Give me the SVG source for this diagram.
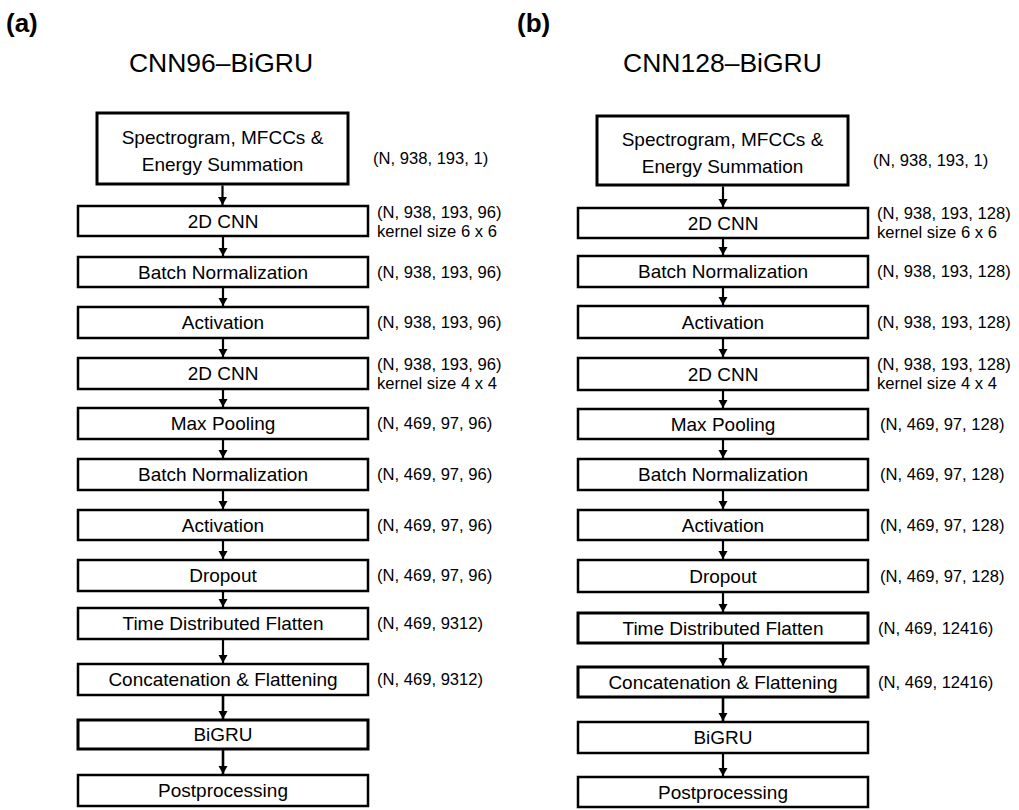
<svg xmlns="http://www.w3.org/2000/svg" width="1019" height="810" viewBox="0 0 1019 810">
<style>
.bg{fill:#ffffff}
.box{fill:#ffffff;stroke:#000000;stroke-width:2.5}
.inbox{fill:#ffffff;stroke:#000000;stroke-width:3}
.lbl{font-family:"Liberation Sans",Arial,sans-serif;font-size:19px;fill:#000;text-anchor:middle;dominant-baseline:central}
.lbl2{font-family:"Liberation Sans",Arial,sans-serif;font-size:19px;fill:#000;text-anchor:middle}
.ann{font-family:"Liberation Sans",Arial,sans-serif;font-size:16.6px;fill:#000;dominant-baseline:central}
.title{font-family:"Liberation Sans",Arial,sans-serif;font-size:26.5px;fill:#000;text-anchor:middle}
.tag{font-family:"Liberation Sans",Arial,sans-serif;font-size:26px;font-weight:bold;fill:#000}
.arr{stroke:#000;stroke-width:2.2;fill:none;marker-end:url(#ah)}
</style>
<defs>
<marker id="ah" markerUnits="userSpaceOnUse" markerWidth="10" markerHeight="10" refX="8" refY="5" orient="auto">
<path d="M0,0.5 L8,5 L0,9.5 z" fill="#000"/>
</marker>
</defs>
<rect class="bg" x="0" y="0" width="1019" height="810"/>
<text class="tag" x="6" y="32">(a)</text>
<text class="tag" x="517" y="32">(b)</text>
<text class="title" x="221" y="72">CNN96–BiGRU</text>
<text class="title" x="722.5" y="72">CNN128–BiGRU</text>

<g id="connectors">
<line class="arr" x1="222.5" y1="185.5" x2="222.5" y2="205"/>
<line class="arr" x1="223" y1="237" x2="223" y2="256"/>
<line class="arr" x1="223" y1="288" x2="223" y2="306"/>
<line class="arr" x1="223" y1="338.5" x2="223" y2="357"/>
<line class="arr" x1="223" y1="389.5" x2="223" y2="407"/>
<line class="arr" x1="223" y1="439.5" x2="223" y2="458"/>
<line class="arr" x1="223" y1="490.5" x2="223" y2="509"/>
<line class="arr" x1="223" y1="540.5" x2="223" y2="559"/>
<line class="arr" x1="223" y1="591.5" x2="223" y2="607"/>
<line class="arr" x1="223" y1="639.5" x2="223" y2="663"/>
<line class="arr" x1="223" y1="695.5" x2="223" y2="719" style="stroke-width:2.6"/>
<line class="arr" x1="223" y1="749.5" x2="223" y2="774" style="stroke-width:2.6"/>

<line class="arr" x1="723" y1="186.5" x2="723" y2="207"/>
<line class="arr" x1="723" y1="239" x2="723" y2="255"/>
<line class="arr" x1="723" y1="288" x2="723" y2="305"/>
<line class="arr" x1="723" y1="339" x2="723" y2="357"/>
<line class="arr" x1="723" y1="391" x2="723" y2="408"/>
<line class="arr" x1="723" y1="440" x2="723" y2="458"/>
<line class="arr" x1="723" y1="491" x2="723" y2="509"/>
<line class="arr" x1="723" y1="541" x2="723" y2="559"/>
<line class="arr" x1="723" y1="593" x2="723" y2="612"/>
<line class="arr" x1="723" y1="644" x2="723" y2="666"/>
<line class="arr" x1="723" y1="698" x2="723" y2="721" style="stroke-width:2.6"/>
<line class="arr" x1="723" y1="754" x2="723" y2="776"/>
</g>

<g id="a-input"><rect class="inbox" x="97" y="113" width="251" height="71"/>
<text class="lbl2" x="222.5" y="144">Spectrogram, MFCCs &amp;</text>
<text class="lbl2" x="222.5" y="171">Energy Summation</text>
<text class="ann" x="373" y="158">(N, 938, 193, 1)</text></g>
<g id="a-cnn1"><rect class="box" x="78" y="206" width="290" height="30"/>
<text class="lbl" x="223" y="221">2D CNN</text>
<text class="ann" x="377" y="212">(N, 938, 193, 96)</text>
<text class="ann" x="377" y="231">kernel size 6 x 6</text></g>
<g id="a-bn1"><rect class="box" x="78" y="257" width="290" height="30"/>
<text class="lbl" x="223" y="272">Batch Normalization</text>
<text class="ann" x="377" y="272">(N, 938, 193, 96)</text></g>
<g id="a-act1"><rect class="box" x="78" y="307" width="290" height="31"/>
<text class="lbl" x="223" y="322.5">Activation</text>
<text class="ann" x="377" y="322.5">(N, 938, 193, 96)</text></g>
<g id="a-cnn2"><rect class="box" x="78" y="358" width="290" height="31"/>
<text class="lbl" x="223" y="373.5">2D CNN</text>
<text class="ann" x="377" y="364">(N, 938, 193, 96)</text>
<text class="ann" x="377" y="383">kernel size 4 x 4</text></g>
<g id="a-pool"><rect class="box" x="78" y="408" width="290" height="31"/>
<text class="lbl" x="223" y="423.5">Max Pooling</text>
<text class="ann" x="377" y="423.5">(N, 469, 97, 96)</text></g>
<g id="a-bn2"><rect class="box" x="78" y="459" width="290" height="31"/>
<text class="lbl" x="223" y="474.5">Batch Normalization</text>
<text class="ann" x="377" y="474.5">(N, 469, 97, 96)</text></g>
<g id="a-act2"><rect class="box" x="78" y="510" width="290" height="30"/>
<text class="lbl" x="223" y="525">Activation</text>
<text class="ann" x="377" y="525">(N, 469, 97, 96)</text></g>
<g id="a-drop"><rect class="box" x="78" y="560" width="290" height="31"/>
<text class="lbl" x="223" y="575.5">Dropout</text>
<text class="ann" x="377" y="575.5">(N, 469, 97, 96)</text></g>
<g id="a-tdf"><rect class="box" x="78" y="608" width="290" height="31"/>
<text class="lbl" x="223" y="623.5">Time Distributed Flatten</text>
<text class="ann" x="377" y="623.5">(N, 469, 9312)</text></g>
<g id="a-concat"><rect class="box" x="78" y="664" width="290" height="31"/>
<text class="lbl" x="223" y="679.5">Concatenation &amp; Flattening</text>
<text class="ann" x="377" y="679.5">(N, 469, 9312)</text></g>
<g id="a-bigru"><rect class="inbox" x="78" y="720" width="290" height="29"/>
<text class="lbl" x="223" y="734.5">BiGRU</text></g>
<g id="a-post"><rect class="box" x="78" y="775" width="290" height="31"/>
<text class="lbl" x="223" y="790.5">Postprocessing</text></g>

<g id="b-input"><rect class="inbox" x="597" y="116" width="251" height="69"/>
<text class="lbl2" x="722.5" y="146">Spectrogram, MFCCs &amp;</text>
<text class="lbl2" x="722.5" y="173">Energy Summation</text>
<text class="ann" x="873" y="160">(N, 938, 193, 1)</text></g>
<g id="b-cnn1"><rect class="box" x="578" y="208" width="290" height="30"/>
<text class="lbl" x="723" y="223">2D CNN</text>
<text class="ann" x="877" y="213.5">(N, 938, 193, 128)</text>
<text class="ann" x="877" y="232.5">kernel size 6 x 6</text></g>
<g id="b-bn1"><rect class="box" x="578" y="256" width="290" height="31"/>
<text class="lbl" x="723" y="271.5">Batch Normalization</text>
<text class="ann" x="877" y="271.5">(N, 938, 193, 128)</text></g>
<g id="b-act1"><rect class="box" x="578" y="306" width="290" height="32"/>
<text class="lbl" x="723" y="322">Activation</text>
<text class="ann" x="877" y="322">(N, 938, 193, 128)</text></g>
<g id="b-cnn2"><rect class="box" x="578" y="358" width="290" height="32"/>
<text class="lbl" x="723" y="374">2D CNN</text>
<text class="ann" x="877" y="364.5">(N, 938, 193, 128)</text>
<text class="ann" x="877" y="383.5">kernel size 4 x 4</text></g>
<g id="b-pool"><rect class="box" x="578" y="409" width="290" height="30"/>
<text class="lbl" x="723" y="424">Max Pooling</text>
<text class="ann" x="880" y="424">(N, 469, 97, 128)</text></g>
<g id="b-bn2"><rect class="box" x="578" y="459" width="290" height="31"/>
<text class="lbl" x="723" y="474.5">Batch Normalization</text>
<text class="ann" x="880" y="474.5">(N, 469, 97, 128)</text></g>
<g id="b-act2"><rect class="box" x="578" y="510" width="290" height="30"/>
<text class="lbl" x="723" y="525">Activation</text>
<text class="ann" x="880" y="525">(N, 469, 97, 128)</text></g>
<g id="b-drop"><rect class="box" x="578" y="560" width="290" height="32"/>
<text class="lbl" x="723" y="576">Dropout</text>
<text class="ann" x="880" y="576">(N, 469, 97, 128)</text></g>
<g id="b-tdf"><rect class="inbox" x="578" y="613" width="290" height="30"/>
<text class="lbl" x="723" y="628">Time Distributed Flatten</text>
<text class="ann" x="878" y="628">(N, 469, 12416)</text></g>
<g id="b-concat"><rect class="inbox" x="578" y="667" width="290" height="30"/>
<text class="lbl" x="723" y="682">Concatenation &amp; Flattening</text>
<text class="ann" x="878" y="682">(N, 469, 12416)</text></g>
<g id="b-bigru"><rect class="box" x="578" y="722" width="290" height="31"/>
<text class="lbl" x="723" y="737.5">BiGRU</text></g>
<g id="b-post"><rect class="box" x="578" y="777" width="290" height="30"/>
<text class="lbl" x="723" y="792">Postprocessing</text></g>
</svg>
